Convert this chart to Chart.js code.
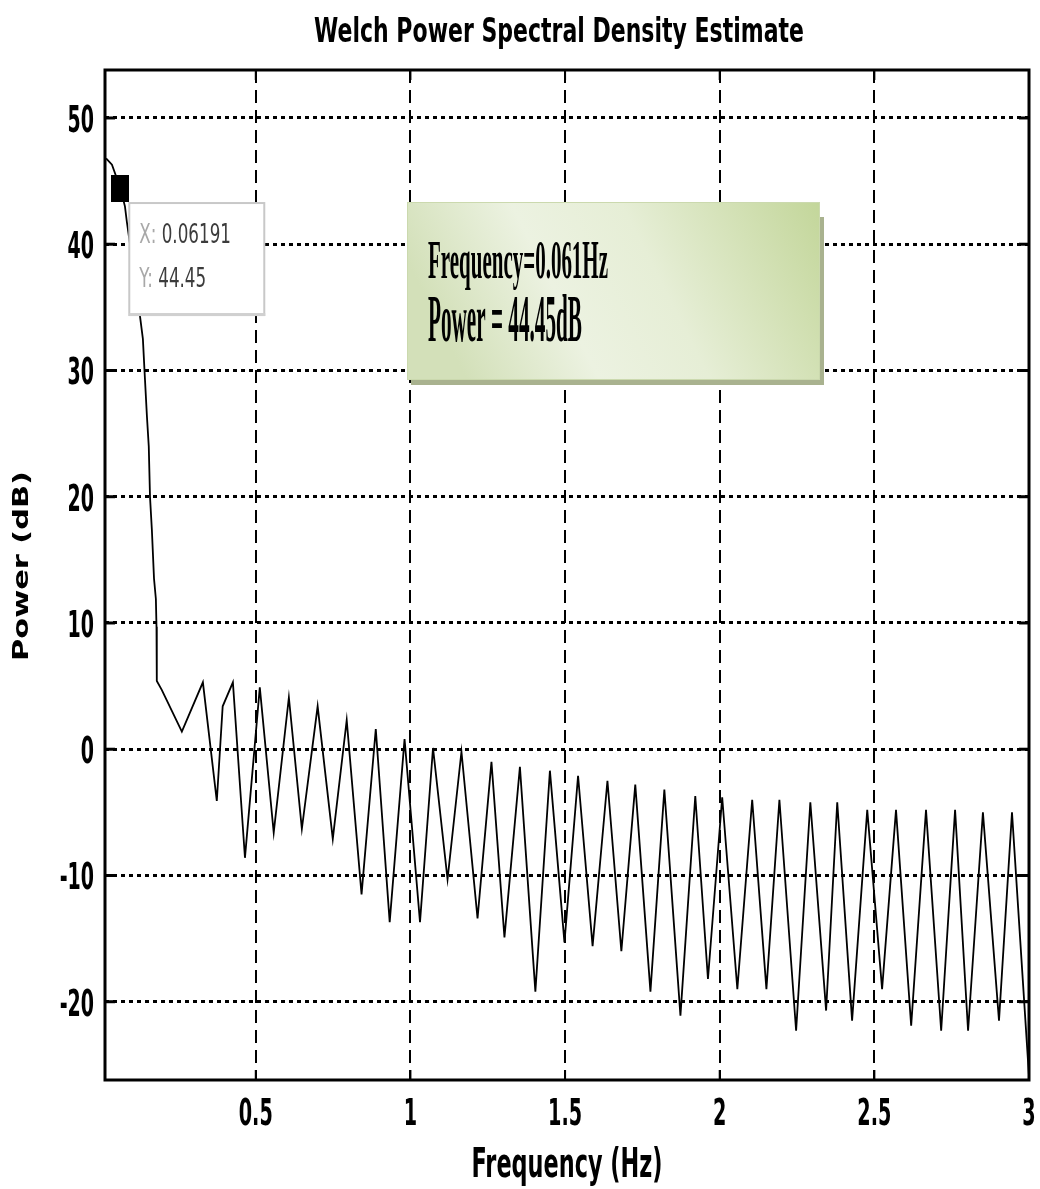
<!DOCTYPE html>
<html>
<head>
<meta charset="utf-8">
<title>Welch Power Spectral Density Estimate</title>
<script src="https://cdn.jsdelivr.net/npm/chart.js@4.4.1/dist/chart.umd.min.js"></script>
<style>
    html, body { margin: 0; padding: 0; background: #fff; }
    #psdChartContainer { width: 1040px; height: 1189px; }
</style>
</head>
<body>
<div id="psdChartContainer"><canvas id="psdChart" width="1040" height="1189"></canvas></div>
<script>
'use strict';

// values
const freqHz = [
    0.016, 0.035, 0.0619, 0.077, 0.083, 0.122, 0.135, 0.140, 0.148, 0.154,
    0.158, 0.164, 0.171, 0.177, 0.179, 0.180, 0.196, 0.261, 0.329, 0.374,
    0.393, 0.426, 0.465, 0.513, 0.558, 0.607, 0.649, 0.700, 0.749, 0.794,
    0.842, 0.888, 0.933, 0.981, 1.031, 1.073, 1.120, 1.165, 1.217, 1.262,
    1.304, 1.354, 1.404, 1.451, 1.498, 1.542, 1.589, 1.637, 1.682, 1.727,
    1.776, 1.821, 1.873, 1.921, 1.962, 2.008, 2.057, 2.105, 2.151, 2.193,
    2.247, 2.293, 2.344, 2.380, 2.428, 2.477, 2.525, 2.570, 2.619, 2.667,
    2.716, 2.761, 2.803, 2.851, 2.903, 2.945, 3.000
];
const powerDb = [
    46.8, 46.3, 44.45, 43.0, 41.8, 35.0, 32.5, 30.1, 26.4, 24.0,
    20.0, 17.4, 13.5, 11.9, 9.7, 5.4, 4.7, 1.4, 5.3, -4.1,
    3.4, 5.3, -8.6, 4.9, -6.6, 4.1, -6.3, 3.4, -7.1, 2.3,
    -11.5, 1.6, -13.7, 0.8, -13.7, 0.1, -10.3, -0.2, -13.4, -1.0,
    -14.9, -1.4, -19.2, -1.7, -15.3, -2.1, -15.6, -2.5, -16.0, -2.8,
    -19.2, -3.2, -21.1, -3.7, -18.2, -3.8, -19.0, -4.0, -19.0, -4.0,
    -22.3, -4.2, -20.7, -4.2, -21.5, -4.8, -19.0, -4.8, -21.9, -4.8,
    -22.3, -4.8, -22.3, -5.0, -21.5, -5.0, -25.9
];
const xTicks = [0.5, 1, 1.5, 2, 2.5, 3];
const yTicks = [-20, -10, 0, 10, 20, 30, 40, 50];
const tipFreq = [0.06191];
const tipPower = [44.45];
const noteLines = ['Frequency=0.061Hz', 'Power = 44.45dB'];

const SANS = '"DejaVu Sans", "Liberation Sans", sans-serif';
const SERIF = '"Liberation Serif", "DejaVu Serif", serif';

function drawText(ctx, text, x, y, opt) {
    ctx.save();
    ctx.font = opt.font;
    ctx.fillStyle = opt.color || '#000';
    ctx.textBaseline = 'alphabetic';
    ctx.textAlign = 'left';
    const w = ctx.measureText(text).width;
    const sx = opt.width ? opt.width / w : opt.sx;
    let dx = 0;
    if (opt.align === 'center') dx = -w / 2;
    if (opt.align === 'right') dx = -w;
    ctx.translate(x, y);
    if (opt.rotate) ctx.rotate(opt.rotate);
    ctx.scale(sx, 1);
    ctx.fillText(text, dx, 0);
    ctx.restore();
}

function line(ctx, x1, y1, x2, y2) {
    ctx.beginPath();
    ctx.moveTo(x1, y1);
    ctx.lineTo(x2, y2);
    ctx.stroke();
}

const matlabLook = {
    id: 'matlabLook',
    afterDraw(chart) {
        const ctx = chart.ctx;
        const a = chart.chartArea;
        const xs = chart.scales.x;
        const ys = chart.scales.y;

        ctx.save();
        ctx.strokeStyle = '#000';
        ctx.lineWidth = 3;
        ys.ticks.forEach(t => {
            const py = ys.getPixelForValue(t.value);
            line(ctx, a.left, py, a.left + 10, py);
            line(ctx, a.right - 10, py, a.right, py);
        });
        ctx.lineWidth = 2;
        xs.ticks.forEach(t => {
            const px = xs.getPixelForValue(t.value);
            line(ctx, px, a.bottom, px, a.bottom - 10);
            line(ctx, px, a.top, px, a.top + 10);
        });
        ctx.lineWidth = 3;
        ctx.strokeRect(a.left, a.top, a.right - a.left, a.bottom - a.top);
        ctx.restore();

        // tick labels
        ys.ticks.forEach(t => {
            const py = ys.getPixelForValue(t.value);
            drawText(ctx, String(t.value), a.left - 11, py + 14, {font: 'bold 38px ' + SANS, sx: 0.5, align: 'right'});
        });
        xs.ticks.forEach(t => {
            const px = xs.getPixelForValue(t.value);
            drawText(ctx, String(t.value), px, a.bottom + 45, {font: 'bold 37px ' + SANS, sx: 0.52, align: 'center'});
        });

        // titles
        const cx = (a.left + a.right) / 2;
        drawText(ctx, 'Welch Power Spectral Density Estimate', cx - 8, 42, {font: 'bold 34px ' + SANS, width: 490, align: 'center'});
        drawText(ctx, 'Frequency (Hz)', cx, a.bottom + 97, {font: 'bold 40px ' + SANS, width: 191, align: 'center'});
        drawText(ctx, 'Power (dB)', 28, (a.top + a.bottom) / 2 - 9, {font: 'bold 22px ' + SANS, width: 190, align: 'center', rotate: -Math.PI / 2});

        // data tip
        const tx = xs.getPixelForValue(tipFreq[0]);
        const ty = ys.getPixelForValue(tipPower[0]);
        const bx = tx + 9, by = ty + 15;
        ctx.save();
        ctx.fillStyle = '#fff';
        ctx.fillRect(bx, by, 135, 112);
        ctx.strokeStyle = '#c8c8c8';
        ctx.lineWidth = 2;
        ctx.strokeRect(bx, by, 135, 112);
        ctx.fillStyle = '#d0d0d0';
        ctx.fillRect(bx, by + 110, 136, 3);
        ctx.restore();
        drawTip(ctx, 'X: ', String(tipFreq[0]), bx + 10, by + 40);
        drawTip(ctx, 'Y: ', String(tipPower[0]), bx + 10, by + 84);

        // annotation box
        const gx = 407, gy = 202, gw = 413, gh = 178;
        ctx.save();
        ctx.fillStyle = '#a9b28f';
        ctx.fillRect(gx + 4, gy + 15, gw, gh - 10);
        const grad = ctx.createLinearGradient(gx + gw, gy, gx + 60, gy + gh);
        grad.addColorStop(0, '#c3d69a');
        grad.addColorStop(0.45, '#e6eed6');
        grad.addColorStop(0.7, '#ecf2e1');
        grad.addColorStop(1, '#d3e0b9');
        ctx.fillStyle = grad;
        ctx.fillRect(gx, gy, gw, gh);
        ctx.strokeStyle = '#cbd9ae';
        ctx.lineWidth = 1;
        ctx.strokeRect(gx + 0.5, gy + 0.5, gw - 1, gh - 1);
        ctx.restore();
        drawText(ctx, noteLines[0], gx + 21, 278, {font: 'bold 55px ' + SERIF, width: 180});
        drawText(ctx, noteLines[1], gx + 21, 341, {font: 'bold 68px ' + SERIF, width: 154});
    }
};

function drawTip(ctx, head, value, x, y) {
    const font = '27px ' + SANS;
    ctx.save();
    ctx.font = font;
    const sx = 0.62;
    const hw = ctx.measureText(head).width * sx;
    ctx.restore();
    drawText(ctx, head, x, y, {font: font, sx: sx, color: '#a8a8a8'});
    drawText(ctx, value, x + hw, y, {font: font, sx: sx, color: '#3c3c3c'});
}

function markerStyle() {
    const c = document.createElement('canvas');
    c.width = 18;
    c.height = 27;
    const mctx = c.getContext('2d');
    mctx.fillStyle = '#000';
    mctx.fillRect(0, 0, 18, 27);
    return c;
}

function drawPsd() {
    new Chart('psdChart', {
        type: 'line',
        data: {
            datasets: [{
                label: 'PSD',
                data: freqHz.map((f, i) => ({x: f, y: powerDb[i]})),
                borderColor: '#000',
                borderWidth: 1.8,
                tension: 0,
                pointRadius: 0,
                fill: false
            }, {
                label: 'Data tip',
                data: tipFreq.map((f, i) => ({x: f, y: tipPower[i]})),
                showLine: false,
                pointStyle: markerStyle(),
                pointRadius: 10,
                clip: false
            }]
        },
        options: {
            responsive: false,
            animation: false,
            events: [],
            layout: {padding: {left: 0, right: 9, top: 70, bottom: 0}},
            plugins: {
                legend: {display: false},
                title: {display: false},
                tooltip: {enabled: false}
            },
            scales: {
                x: {
                    type: 'linear',
                    min: 0.0125,
                    max: 3,
                    afterBuildTicks: scale => { scale.ticks = xTicks.map(v => ({value: v})); },
                    afterFit: scale => { scale.height = 109; },
                    ticks: {display: false},
                    grid: {color: '#000', lineWidth: 2, drawTicks: false},
                    border: {display: false, dash: [13, 7]}
                },
                y: {
                    min: -26.2,
                    max: 53.8,
                    afterBuildTicks: scale => { scale.ticks = yTicks.map(v => ({value: v})); },
                    afterFit: scale => { scale.width = 105; },
                    ticks: {display: false},
                    grid: {color: '#000', lineWidth: 3, drawTicks: false},
                    border: {display: false, dash: [4, 4]}
                }
            }
        },
        plugins: [matlabLook]
    });
}

document.addEventListener('DOMContentLoaded', drawPsd);
</script>
</body>
</html>
